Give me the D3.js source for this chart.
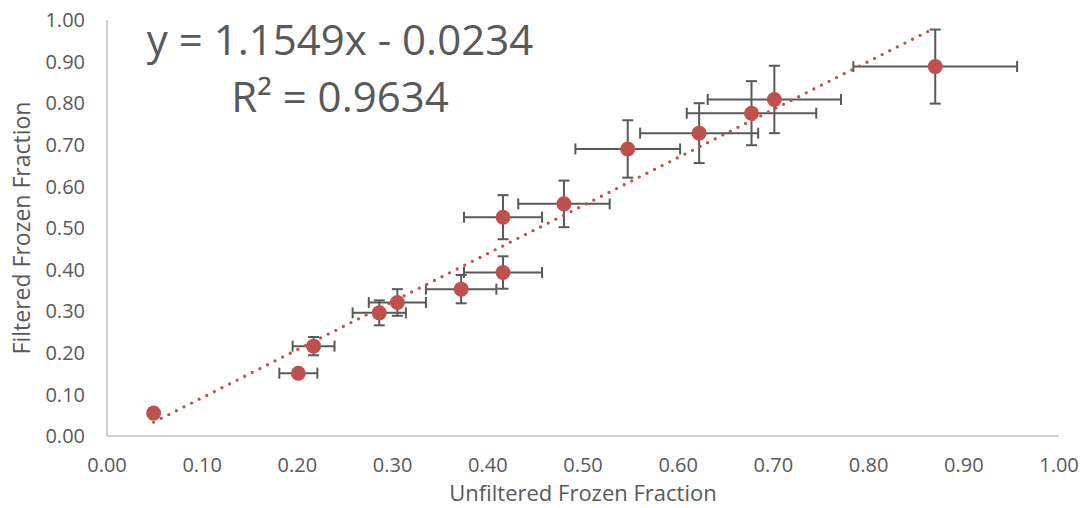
<html>
<head>
<style>
body { margin: 0; background: #fff; }
text { font-family: "Open Sans", sans-serif; fill: #595959; }
</style>
</head>
<body>
<svg width="1084" height="508"></svg>
<script src="https://cdn.jsdelivr.net/npm/d3@7"></script>
<script>
// data
let xVals = [0.049, 0.201, 0.217, 0.286, 0.305, 0.372, 0.416, 0.416, 0.480, 0.547, 0.622, 0.677, 0.701, 0.870];
let yVals = [0.055, 0.151, 0.216, 0.296, 0.321, 0.353, 0.393, 0.526, 0.558, 0.690, 0.728, 0.776, 0.809, 0.888];
let xErr = [0, 0.020, 0.022, 0.028, 0.030, 0.037, 0.041, 0.041, 0.048, 0.055, 0.062, 0.068, 0.070, 0.086];
let yErr = [0, 0.010, 0.022, 0.030, 0.032, 0.034, 0.039, 0.053, 0.056, 0.069, 0.072, 0.077, 0.081, 0.089];
let tickVals = [0, 0.1, 0.2, 0.3, 0.4, 0.5, 0.6, 0.7, 0.8, 0.9, 1.0];
let slope = 1.1549, intercept = -0.0234, r2 = 0.9634;

let red = '#C0504D', grey = '#595959';

let data = xVals.map((x, i) => ({x: x, y: yVals[i], ex: xErr[i], ey: yErr[i]}));

let svg = d3.select('svg');
let x = d3.scaleLinear().domain([0, 1]).range([107, 1059]);
let y = d3.scaleLinear().domain([0, 1]).range([436, 20]);

// axis lines
svg.append('line')
	.attr('x1', x(0)).attr('x2', x(0)).attr('y1', y(1)).attr('y2', y(0))
	.attr('stroke', '#bfbfbf').attr('stroke-width', 1.5);
svg.append('line')
	.attr('x1', x(0)).attr('x2', x(1)).attr('y1', y(0)).attr('y2', y(0))
	.attr('stroke', '#bfbfbf').attr('stroke-width', 1.5);

// tick labels
svg.append('g').selectAll('text')
	.data(tickVals)
	.join('text')
	.attr('x', d => x(d))
	.attr('y', 472)
	.attr('text-anchor', 'middle')
	.attr('font-size', 20)
	.text(d => d3.format('.2f')(d));

svg.append('g').selectAll('text')
	.data(tickVals)
	.join('text')
	.attr('x', 85)
	.attr('y', d => y(d))
	.attr('dy', '0.36em')
	.attr('text-anchor', 'end')
	.attr('font-size', 20)
	.text(d => d3.format('.2f')(d));

// axis titles
svg.append('text')
	.attr('x', (x(0) + x(1)) / 2)
	.attr('y', 501)
	.attr('text-anchor', 'middle')
	.attr('font-size', 22)
	.text('Unfiltered Frozen Fraction');

svg.append('text')
	.attr('transform', 'translate(30,' + ((y(0) + y(1)) / 2) + ') rotate(-90)')
	.attr('text-anchor', 'middle')
	.attr('font-size', 23)
	.text('Filtered Frozen Fraction');

// error bars
let cap = 5.5;
let eb = svg.append('g')
	.attr('stroke', grey)
	.attr('stroke-width', 2);

data.forEach(d => {
	let cx = x(d.x), cy = y(d.y);
	let x0 = x(d.x - d.ex), x1 = x(d.x + d.ex);
	let y0 = y(d.y - d.ey), y1 = y(d.y + d.ey);
	eb.append('line').attr('x1', x0).attr('x2', x1).attr('y1', cy).attr('y2', cy);
	eb.append('line').attr('x1', x0).attr('x2', x0).attr('y1', cy - cap).attr('y2', cy + cap);
	eb.append('line').attr('x1', x1).attr('x2', x1).attr('y1', cy - cap).attr('y2', cy + cap);
	eb.append('line').attr('x1', cx).attr('x2', cx).attr('y1', y0).attr('y2', y1);
	eb.append('line').attr('x1', cx - cap).attr('x2', cx + cap).attr('y1', y0).attr('y2', y0);
	eb.append('line').attr('x1', cx - cap).attr('x2', cx + cap).attr('y1', y1).attr('y2', y1);
});

// markers
svg.append('g').selectAll('circle')
	.data(data)
	.join('circle')
	.attr('cx', d => x(d.x))
	.attr('cy', d => y(d.y))
	.attr('r', 7.5)
	.attr('fill', red);

// linear trendline (dotted)
let xmin = d3.min(xVals), xmax = d3.max(xVals);
svg.append('path')
	.attr('d', d3.line()([[x(xmin), y(slope * xmin + intercept)], [x(xmax), y(slope * xmax + intercept)]]))
	.attr('stroke', red)
	.attr('stroke-width', 3.3)
	.attr('stroke-linecap', 'round')
	.attr('stroke-dasharray', '0 8.5')
	.attr('fill', 'none');

// equation label
svg.append('text')
	.attr('x', 340)
	.attr('y', 55)
	.attr('text-anchor', 'middle')
	.attr('font-size', 42)
	.text('y = ' + slope + 'x - ' + Math.abs(intercept));

svg.append('text')
	.attr('x', 340)
	.attr('y', 112)
	.attr('text-anchor', 'middle')
	.attr('font-size', 42)
	.text('R² = ' + r2);
</script>
</body>
</html>
